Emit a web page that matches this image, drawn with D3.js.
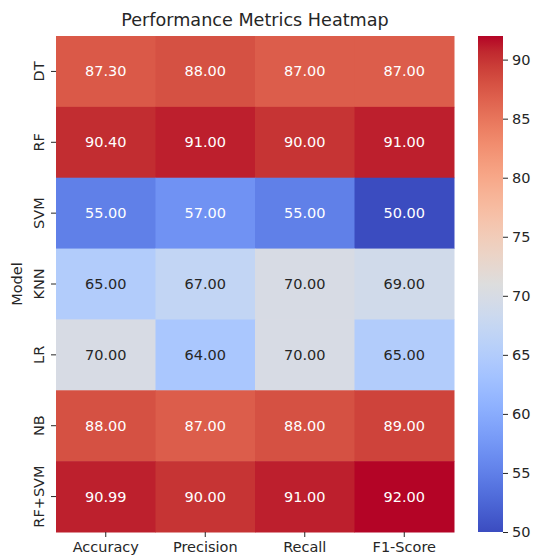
<!DOCTYPE html>
<html><head><meta charset="utf-8">
<script src="https://cdn.jsdelivr.net/npm/d3@7"></script>
<style>body{margin:0;background:#fff}svg{display:block;font-family:"DejaVu Sans",sans-serif}</style>
</head><body>
<svg id="c" width="535" height="557"></svg>
<script>
const models = ["DT","RF","SVM","KNN","LR","NB","RF+SVM"];
const metrics = ["Accuracy","Precision","Recall","F1-Score"];
const accuracy  = [87.30, 90.40, 55.00, 65.00, 70.00, 88.00, 90.99];
const precision = [88.00, 91.00, 57.00, 67.00, 64.00, 87.00, 90.00];
const recall    = [87.00, 90.00, 55.00, 70.00, 70.00, 88.00, 91.00];
const f1score   = [87.00, 91.00, 50.00, 69.00, 65.00, 89.00, 92.00];
const colorbarTicks = [50,55,60,65,70,75,80,85,90];
const vmin = 50, vmax = 92;

const seriesByMetric = [accuracy, precision, recall, f1score];
const cells = [];
models.forEach((m,i)=>metrics.forEach((k,j)=>cells.push({model:m,metric:k,value:seriesByMetric[j][i]})));

// matplotlib coolwarm (Moreland) control points
const cw = [[59,76,192],[68,90,204],[77,104,215],[87,117,225],[98,130,234],[108,142,241],[119,154,247],[130,165,251],[141,176,254],[152,185,255],[163,194,255],[174,201,253],[184,208,249],[194,213,244],[204,217,238],[213,219,230],[221,221,221],[229,216,209],[236,211,197],[241,204,185],[245,196,173],[247,187,160],[247,177,148],[247,166,135],[244,154,123],[241,141,111],[236,127,99],[229,112,88],[222,96,77],[213,80,66],[203,62,56],[192,40,47],[180,4,38]];
const coolwarm = d3.piecewise(d3.interpolateRgb, cw.map(c=>d3.rgb(c[0],c[1],c[2])));
const color = d3.scaleSequential(coolwarm).domain([vmin,vmax]).clamp(true);

function lum(c){
  const r = d3.rgb(c);
  const f = v=>{v/=255;return v<=0.03928?v/12.92:Math.pow((v+0.055)/1.055,2.4);};
  return 0.2126*f(r.r)+0.7152*f(r.g)+0.0722*f(r.b);
}

const FS = "14.5px";
const svg = d3.select("#c");
const L=56, R=454, T=36, B=532;
const x = d3.scaleBand().domain(metrics).range([L,R]);
const y = d3.scaleBand().domain(models).range([T,B]);

svg.append("g").selectAll("rect").data(cells).join("rect")
  .attr("x",d=>x(d.metric)).attr("y",d=>y(d.model))
  .attr("width",x.bandwidth()+0.5).attr("height",y.bandwidth()+0.5)
  .attr("fill",d=>color(d.value));

svg.append("g").selectAll("text").data(cells).join("text")
  .attr("x",d=>x(d.metric)+x.bandwidth()/2).attr("y",d=>y(d.model)+y.bandwidth()/2)
  .attr("text-anchor","middle").attr("dominant-baseline","central")
  .attr("font-size",FS)
  .attr("fill",d=>lum(color(d.value))>0.408?"#262626":"#ffffff")
  .text(d=>d.value.toFixed(2));

// axes
const xa = svg.append("g").attr("transform",`translate(0,${B})`)
  .call(d3.axisBottom(x).tickSize(5).tickPadding(5));
xa.select(".domain").remove();
xa.selectAll("text").attr("font-size",FS).attr("fill","#262626").attr("font-family","DejaVu Sans");
xa.selectAll("line").attr("stroke","#262626");

const ya = svg.append("g").attr("transform",`translate(${L},0)`)
  .call(d3.axisLeft(y).tickSize(5).tickPadding(0));
ya.select(".domain").remove();
ya.selectAll("line").attr("stroke","#262626");
ya.selectAll("text").attr("font-size",FS).attr("fill","#262626").attr("font-family","DejaVu Sans")
  .attr("transform","translate(-17,0) rotate(-90)").attr("x",0).attr("dy",0)
  .attr("text-anchor","middle").attr("dominant-baseline","central");

svg.append("text").attr("transform",`translate(17,${(T+B)/2}) rotate(-90)`)
  .attr("text-anchor","middle").attr("dominant-baseline","central")
  .attr("font-size",FS).attr("fill","#262626").text("Model");

svg.append("text").attr("x",(L+R)/2).attr("y",26)
  .attr("text-anchor","middle").attr("font-size","17.6px").attr("fill","#262626")
  .text("Performance Metrics Heatmap");

// colorbar
const CL=478, CR=503;
const defs = svg.append("defs");
const grad = defs.append("linearGradient").attr("id","cb").attr("x1",0).attr("y1",1).attr("x2",0).attr("y2",0);
d3.range(0,1.0001,1/32).forEach(t=>grad.append("stop").attr("offset",t).attr("stop-color",coolwarm(t)));
svg.append("rect").attr("x",CL).attr("y",T).attr("width",CR-CL).attr("height",B-T).attr("fill","url(#cb)");
const cy = d3.scaleLinear().domain([vmin,vmax]).range([B,T]);
const ca = svg.append("g").attr("transform",`translate(${CR},0)`)
  .call(d3.axisRight(cy).tickValues(colorbarTicks).tickSize(5).tickPadding(4));
ca.select(".domain").remove();
ca.selectAll("line").attr("stroke","#262626");
ca.selectAll("text").attr("font-size",FS).attr("fill","#262626").attr("font-family","DejaVu Sans");
</script>
</body></html>
